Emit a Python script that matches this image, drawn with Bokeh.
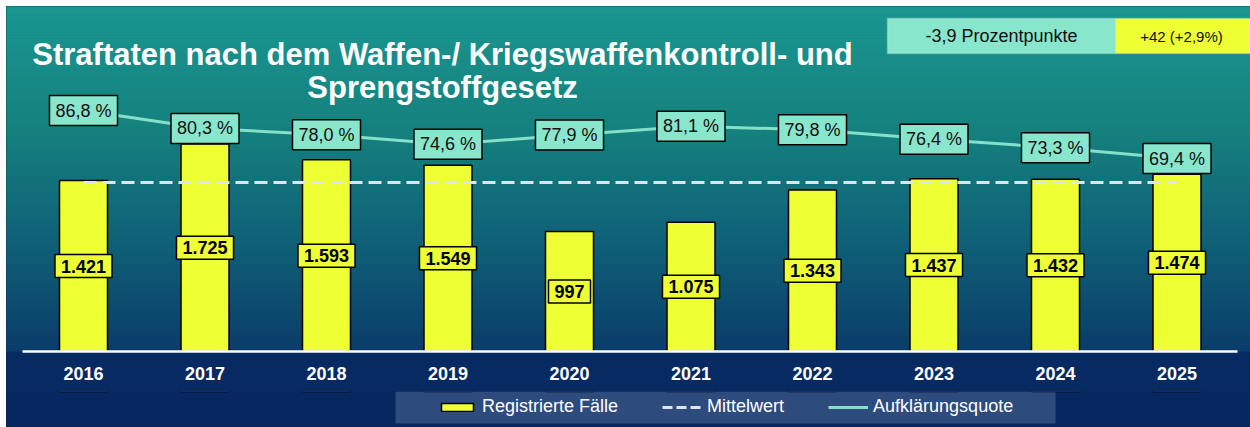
import numpy as np
from bokeh.plotting import figure
from bokeh.layouts import column, row
from bokeh.models import (Range1d, FixedTicker, Label, Legend, LegendItem,
                          BoxAnnotation, Spacer)
from bokeh.embed import file_html
from bokeh.resources import INLINE

# ---------------- data ----------------
years = [2016, 2017, 2018, 2019, 2020, 2021, 2022, 2023, 2024, 2025]
cases = [1421, 1725, 1593, 1549, 997, 1075, 1343, 1437, 1432, 1474]
quote = [86.8, 80.3, 78.0, 74.6, 77.9, 81.1, 79.8, 76.4, 73.3, 69.4]
title_lines = ["Straftaten nach dem Waffen-/ Kriegswaffenkontroll- und",
               "Sprengstoffgesetz"]
change_quote = "-3,9 Prozentpunkte"
change_cases = "+42 (+2,9%)"
legend_labels = ["Registrierte Fälle", "Mittelwert", "Aufklärungsquote"]

case_labels = [f"{v:,}".replace(",", ".") for v in cases]
quote_labels = [f"{q:.1f} %".replace(".", ",") for q in quote]
mean_cases = sum(cases) / len(cases)

# ---------------- geometry / style ----------------
OFF = 6                           # white strip at top / left
W = 1250 - OFF
FONT = "Liberation Sans"
PX_YEAR = 121.5                   # px per year
X0 = years[0] - (83 - OFF) / PX_YEAR
X1 = X0 + W / PX_YEAR
FH = 351 - OFF                    # frame height (baseline at page y 351)
AXIS_H = 391 - 351                # axis panel below baseline
LEG_H = 427 - 391                 # legend strip
PX_CASE = 0.1203                  # px per case
Y1 = FH / PX_CASE
PCT_SLOPE = 2.7586
PCT_OFF = 1.55
P0 = -PCT_OFF / PCT_SLOPE
P1 = P0 + FH / PCT_SLOPE

YELLOW = "#eeff33"
AQUA = "#88e6cc"
LINE_AQUA = "#84e0c8"
NAVY = "#072a62"
MEAN_COL = "#dde6ee"
PAD = dict(left=6, right=6, top=5, bottom=5)


def fx(sx):  # page px -> data x
    return X0 + (sx - OFF) / PX_YEAR


def fy(sy):  # page px -> data y (cases)
    return (351 - sy) / PX_CASE


p = figure(frame_width=W, frame_height=FH, output_backend="svg",
           toolbar_location=None,
           x_range=Range1d(X0, X1), y_range=Range1d(0, Y1),
           min_border_left=0, min_border_right=0, min_border_top=0,
           min_border_bottom=AXIS_H)
p.extra_y_ranges = {"pct": Range1d(P0, P1)}
p.border_fill_color = NAVY
p.background_fill_color = "#0b3d6b"
p.outline_line_color = None
p.xgrid.visible = False
p.ygrid.visible = False
p.yaxis.visible = False

# background gradient (style only)
stops_t = [0.0, 0.35, 0.65, 1.0]
stops_c = [(26, 150, 145), (22, 130, 127), (16, 100, 120), (11, 61, 107)]
N = 120
edges = np.linspace(Y1, 0, N + 1)
cols = []
for i in range(N):
    t = (i + 0.5) / N
    rgb = [int(round(np.interp(t, stops_t, [c[k] for c in stops_c]))) for k in range(3)]
    cols.append("#%02x%02x%02x" % tuple(rgb))
p.quad(left=X0, right=X1, top=edges[:-1], bottom=edges[1:],
       fill_color=cols, line_color=cols, line_width=1)

bar_style = dict(width=48 / PX_YEAR, fill_color=YELLOW, line_color="black",
                 line_width=1.5)
pct_style = dict(line_color=LINE_AQUA, line_width=3)

# bars
p.vbar(x=years, top=cases, **bar_style)
# mean line
p.line([years[0], years[-1]], [mean_cases, mean_cases], line_color=MEAN_COL,
       line_width=3, line_dash="13 6")
# clearance rate line
p.line(years, quote, y_range_name="pct", **pct_style)

# labels on bars
for yr, v, lab in zip(years, cases, case_labels):
    p.add_layout(Label(x=yr, y=v / 2, text=lab, text_align="center",
                       text_baseline="middle", text_font=FONT,
                       text_font_size="18px", text_font_style="bold",
                       text_color="black", background_fill_color=YELLOW,
                       border_line_color="black", border_line_width=1.5,
                       padding=PAD))

# labels on line
for yr, q, lab in zip(years, quote, quote_labels):
    p.add_layout(Label(x=yr, y=q, y_range_name="pct", text=lab,
                       text_align="center", text_baseline="middle",
                       text_font=FONT, text_font_size="18px",
                       text_color="#111111", background_fill_color=AQUA,
                       border_line_color="black", border_line_width=1.5,
                       padding=PAD))

# title
for line, by in zip(title_lines, [54, 87]):
    p.add_layout(Label(x=fx(442), y=fy(by), text=line, text_align="center",
                       text_baseline="alphabetic", text_font=FONT,
                       text_font_size="31px", text_font_style="bold",
                       text_color="white"))

# change boxes top right
p.add_layout(BoxAnnotation(left=fx(887), right=fx(1115), top=fy(18),
                           bottom=fy(53), fill_color=AQUA, fill_alpha=1,
                           line_color="#d6efe9", line_width=1.5))
p.add_layout(BoxAnnotation(left=fx(1115), right=X1 + 1, top=fy(18),
                           bottom=fy(53), fill_color=YELLOW, fill_alpha=1,
                           line_color="#d6efe9", line_width=1.5))
p.add_layout(Label(x=fx(1001), y=fy(35.5), text=change_quote,
                   text_align="center", text_baseline="middle",
                   text_font=FONT, text_font_size="18px", text_color="#111111"))
p.add_layout(Label(x=fx(1181), y=fy(35.5), text=change_cases,
                   text_align="center", text_baseline="middle",
                   text_font=FONT, text_font_size="15px", text_color="#111111"))

# x axis
ax = p.xaxis[0]
ax.ticker = FixedTicker(ticks=years)
ax.bounds = (years[0] - 0.5, years[-1] + 0.5)
ax.axis_line_color = "white"
ax.axis_line_width = 2.5
ax.major_tick_line_color = None
ax.minor_tick_line_color = None
ax.major_tick_out = 0
ax.major_tick_in = 0
ax.major_label_standoff = 15
ax.major_label_text_color = "white"
ax.major_label_text_font = FONT
ax.major_label_text_font_size = "18px"
ax.major_label_text_font_style = "bold"

# ---------------- legend strip ----------------
q = figure(frame_width=W, frame_height=LEG_H, output_backend="svg",
           toolbar_location=None, x_range=Range1d(X0, X1),
           y_range=Range1d(0, LEG_H),
           min_border_left=0, min_border_right=0, min_border_top=0,
           min_border_bottom=0)
q.extra_y_ranges = {"hidden": Range1d(-2, -1)}
q.axis.visible = False
q.grid.visible = False
q.outline_line_color = None
q.background_fill_color = "#06275f"
q.border_fill_color = "#06275f"
# same series, out of the strip's view; used only for the legend swatches
lb = q.vbar(x=years, top=cases, y_range_name="hidden", **bar_style)
lm = q.line([years[0], years[-1]], [mean_cases, mean_cases],
            y_range_name="hidden", line_color=MEAN_COL, line_width=3,
            line_dash="10 4")
lp = q.line(years, quote, y_range_name="hidden", **pct_style)

# legend panel box
q.add_layout(BoxAnnotation(left=fx(395), right=fx(1055), bottom=427 - 423,
                           top=427 - 391, fill_color="#2e4b7d", fill_alpha=1,
                           line_color=None, level="underlay"))

legend = Legend(items=[LegendItem(label=legend_labels[0], renderers=[lb]),
                       LegendItem(label=legend_labels[1], renderers=[lm]),
                       LegendItem(label=legend_labels[2], renderers=[lp])],
                orientation="horizontal", location=(437 - OFF, 427 - 417),
                background_fill_alpha=0, border_line_color=None,
                label_text_color="white",
                label_text_font=FONT, label_text_font_size="18px",
                glyph_width=40, glyph_height=10, label_standoff=5,
                spacing=44, padding=0, margin=0, label_height=20)
q.add_layout(legend, "center")

layout = column(Spacer(width=1250, height=OFF),
                row(Spacer(width=OFF, height=FH + AXIS_H + LEG_H),
                    column(p, q, styles={"background-color": NAVY})))

open("out.html", "w").write(file_html(layout, INLINE))
